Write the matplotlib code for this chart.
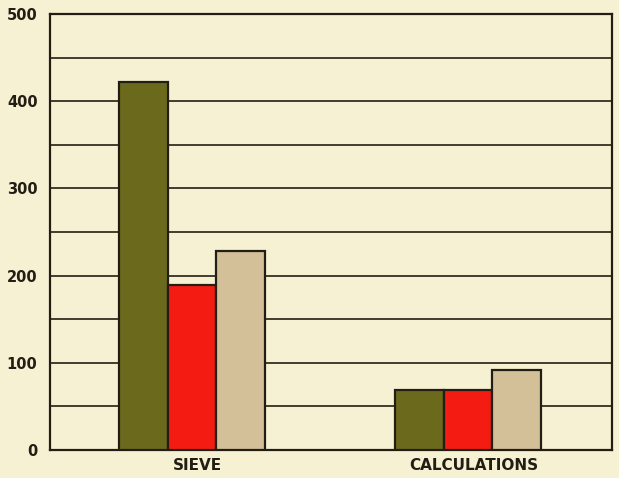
import numpy as np
import matplotlib as mpl
mpl.use("Agg")
import matplotlib.pyplot as plt

CATEGORIES = ["SIEVE", "CALCULATIONS"]
SERIES_A = [422, 69]    # olive
SERIES_B = [189, 69]    # red
SERIES_C = [228, 92]    # tan

BG = "#f7f1d3"
COLORS = ["#6b6a1c", "#f41c12", "#d3bf98"]
INK = "#231e14"

fig = plt.figure(figsize=(6.19, 4.78), dpi=100)
fig.patch.set_facecolor(BG)
ax = fig.add_axes([0.0808, 0.0586, 0.9079, 0.9121])
ax.set_facecolor(BG)

x = np.arange(len(CATEGORIES))
w = 0.176
for i, (vals, col) in enumerate(zip([SERIES_A, SERIES_B, SERIES_C], COLORS)):
    ax.bar(x + (i - 1) * w, vals, width=w, color=col, edgecolor=INK,
           linewidth=1.6, zorder=3)

ax.set_xlim(-0.514, 1.522)
ax.set_ylim(0, 500)
ax.set_yticks(range(0, 501, 100))
ax.yaxis.set_minor_locator(mpl.ticker.MultipleLocator(50))
ax.grid(axis="y", which="both", color=INK, lw=1.2, zorder=1)
ax.set_xticks(x + 0.02)
ax.set_xticklabels(CATEGORIES)

for s in ax.spines.values():
    s.set_color(INK)
    s.set_linewidth(1.6)
ax.tick_params(axis="both", which="both", length=0, colors=INK)
ax.tick_params(axis="y", labelsize=10.5, pad=9)
ax.tick_params(axis="x", labelsize=11, pad=6)
for lab in ax.get_xticklabels() + ax.get_yticklabels():
    lab.set_fontweight("bold")

fig.savefig("out.png", dpi=100, facecolor=BG)
